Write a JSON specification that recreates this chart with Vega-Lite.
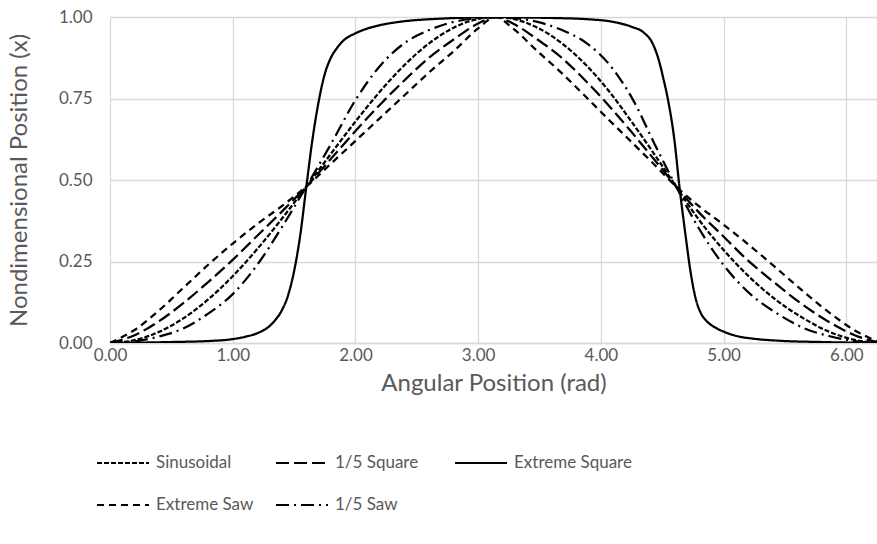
{
  "$schema": "https://vega.github.io/schema/vega-lite/v6.json",
  "width": 767,
  "height": 326,
  "autosize": "none",
  "padding": {"left": 110, "top": 17, "right": 0, "bottom": 201},
  "config": {"view": {"stroke": null}, "font": "Lato", "background": "white"},
  "data": {"values": [
    {"s":"Sinusoidal","t":0,"v":0},{"s":"Sinusoidal","t":0.2,"v":0.0086},{"s":"Sinusoidal","t":0.4,"v":0.0342},{"s":"Sinusoidal","t":0.6,"v":0.0762},{"s":"Sinusoidal","t":0.8,"v":0.1336},{"s":"Sinusoidal","t":1.0,"v":0.205},{"s":"Sinusoidal","t":1.2,"v":0.2884},{"s":"Sinusoidal","t":1.4,"v":0.381},{"s":"Sinusoidal","t":1.6,"v":0.4796},{"s":"Sinusoidal","t":1.8,"v":0.5804},{"s":"Sinusoidal","t":2.0,"v":0.6792},{"s":"Sinusoidal","t":2.2,"v":0.7714},{"s":"Sinusoidal","t":2.4,"v":0.8527},{"s":"Sinusoidal","t":2.6,"v":0.9191},{"s":"Sinusoidal","t":2.8,"v":0.9672},{"s":"Sinusoidal","t":3.0,"v":0.9943},{"s":"Sinusoidal","t":3.1416,"v":1},
    {"s":"Sinusoidal","t":3.2832,"v":0.9943},{"s":"Sinusoidal","t":3.4832,"v":0.9672},{"s":"Sinusoidal","t":3.6832,"v":0.9191},{"s":"Sinusoidal","t":3.8792,"v":0.8527},{"s":"Sinusoidal","t":4.0682,"v":0.7714},{"s":"Sinusoidal","t":4.2492,"v":0.6792},{"s":"Sinusoidal","t":4.4332,"v":0.5804},{"s":"Sinusoidal","t":4.6132,"v":0.4796},{"s":"Sinusoidal","t":4.7932,"v":0.381},{"s":"Sinusoidal","t":4.9932,"v":0.2884},{"s":"Sinusoidal","t":5.2032,"v":0.205},{"s":"Sinusoidal","t":5.4232,"v":0.1336},{"s":"Sinusoidal","t":5.6482,"v":0.0762},{"s":"Sinusoidal","t":5.8632,"v":0.0342},{"s":"Sinusoidal","t":6.0782,"v":0.0086},{"s":"Sinusoidal","t":6.2832,"v":0},

    {"s":"1/5 Square","t":0,"v":0},{"s":"1/5 Square","t":0.2,"v":0.024},{"s":"1/5 Square","t":0.4,"v":0.067},{"s":"1/5 Square","t":0.6,"v":0.123},{"s":"1/5 Square","t":0.8,"v":0.187},{"s":"1/5 Square","t":1.0,"v":0.255},{"s":"1/5 Square","t":1.2,"v":0.329},{"s":"1/5 Square","t":1.4,"v":0.403},{"s":"1/5 Square","t":1.6,"v":0.48},{"s":"1/5 Square","t":1.8,"v":0.565},{"s":"1/5 Square","t":2.0,"v":0.65},{"s":"1/5 Square","t":2.2,"v":0.731},{"s":"1/5 Square","t":2.4,"v":0.806},{"s":"1/5 Square","t":2.6,"v":0.875},{"s":"1/5 Square","t":2.8,"v":0.931},{"s":"1/5 Square","t":3.0,"v":0.98},{"s":"1/5 Square","t":3.1416,"v":1},
    {"s":"1/5 Square","t":3.2832,"v":0.98},{"s":"1/5 Square","t":3.4832,"v":0.931},{"s":"1/5 Square","t":3.6802,"v":0.875},{"s":"1/5 Square","t":3.8712,"v":0.806},{"s":"1/5 Square","t":4.0582,"v":0.731},{"s":"1/5 Square","t":4.2432,"v":0.65},{"s":"1/5 Square","t":4.4302,"v":0.565},{"s":"1/5 Square","t":4.6132,"v":0.48},{"s":"1/5 Square","t":4.7932,"v":0.403},{"s":"1/5 Square","t":4.9932,"v":0.329},{"s":"1/5 Square","t":5.1932,"v":0.255},{"s":"1/5 Square","t":5.4082,"v":0.187},{"s":"1/5 Square","t":5.6252,"v":0.123},{"s":"1/5 Square","t":5.8482,"v":0.067},{"s":"1/5 Square","t":6.0682,"v":0.024},{"s":"1/5 Square","t":6.2832,"v":0},

    {"s":"Extreme Square","t":0,"v":0},{"s":"Extreme Square","t":0.5,"v":0.003},{"s":"Extreme Square","t":0.8,"v":0.006},{"s":"Extreme Square","t":1.0,"v":0.012},{"s":"Extreme Square","t":1.1,"v":0.019},{"s":"Extreme Square","t":1.2,"v":0.03},{"s":"Extreme Square","t":1.3,"v":0.052},{"s":"Extreme Square","t":1.35,"v":0.072},{"s":"Extreme Square","t":1.4,"v":0.1},{"s":"Extreme Square","t":1.45,"v":0.145},{"s":"Extreme Square","t":1.5,"v":0.22},{"s":"Extreme Square","t":1.55,"v":0.33},{"s":"Extreme Square","t":1.6,"v":0.48},{"s":"Extreme Square","t":1.65,"v":0.625},{"s":"Extreme Square","t":1.7,"v":0.74},{"s":"Extreme Square","t":1.75,"v":0.825},{"s":"Extreme Square","t":1.8,"v":0.875},{"s":"Extreme Square","t":1.85,"v":0.905},{"s":"Extreme Square","t":1.9,"v":0.927},{"s":"Extreme Square","t":2.0,"v":0.95},{"s":"Extreme Square","t":2.1,"v":0.965},{"s":"Extreme Square","t":2.2,"v":0.975},{"s":"Extreme Square","t":2.4,"v":0.987},{"s":"Extreme Square","t":2.7,"v":0.995},{"s":"Extreme Square","t":3.0,"v":0.999},{"s":"Extreme Square","t":3.1416,"v":1},
    {"s":"Extreme Square","t":3.2832,"v":0.999},{"s":"Extreme Square","t":3.6,"v":0.997},{"s":"Extreme Square","t":3.9,"v":0.993},{"s":"Extreme Square","t":4.1,"v":0.985},{"s":"Extreme Square","t":4.25,"v":0.97},{"s":"Extreme Square","t":4.35,"v":0.952},{"s":"Extreme Square","t":4.42,"v":0.92},{"s":"Extreme Square","t":4.47,"v":0.87},{"s":"Extreme Square","t":4.51,"v":0.81},{"s":"Extreme Square","t":4.55,"v":0.74},{"s":"Extreme Square","t":4.6,"v":0.62},{"s":"Extreme Square","t":4.64,"v":0.48},{"s":"Extreme Square","t":4.69,"v":0.33},{"s":"Extreme Square","t":4.73,"v":0.22},{"s":"Extreme Square","t":4.77,"v":0.14},{"s":"Extreme Square","t":4.81,"v":0.095},{"s":"Extreme Square","t":4.86,"v":0.068},{"s":"Extreme Square","t":4.92,"v":0.05},{"s":"Extreme Square","t":5.0,"v":0.035},{"s":"Extreme Square","t":5.1,"v":0.022},{"s":"Extreme Square","t":5.25,"v":0.013},{"s":"Extreme Square","t":5.45,"v":0.007},{"s":"Extreme Square","t":5.8,"v":0.003},{"s":"Extreme Square","t":6.2832,"v":0},

    {"s":"Extreme Saw","t":0,"v":0},{"s":"Extreme Saw","t":0.2,"v":0.04},{"s":"Extreme Saw","t":0.4,"v":0.1},{"s":"Extreme Saw","t":0.6,"v":0.17},{"s":"Extreme Saw","t":0.8,"v":0.24},{"s":"Extreme Saw","t":1.0,"v":0.305},{"s":"Extreme Saw","t":1.2,"v":0.365},{"s":"Extreme Saw","t":1.4,"v":0.42},{"s":"Extreme Saw","t":1.6,"v":0.48},{"s":"Extreme Saw","t":1.8,"v":0.55},{"s":"Extreme Saw","t":2.0,"v":0.62},{"s":"Extreme Saw","t":2.2,"v":0.69},{"s":"Extreme Saw","t":2.4,"v":0.76},{"s":"Extreme Saw","t":2.6,"v":0.83},{"s":"Extreme Saw","t":2.8,"v":0.895},{"s":"Extreme Saw","t":3.0,"v":0.965},{"s":"Extreme Saw","t":3.1416,"v":1},
    {"s":"Extreme Saw","t":3.2832,"v":0.965},{"s":"Extreme Saw","t":3.4832,"v":0.895},{"s":"Extreme Saw","t":3.6752,"v":0.83},{"s":"Extreme Saw","t":3.8652,"v":0.76},{"s":"Extreme Saw","t":4.0502,"v":0.69},{"s":"Extreme Saw","t":4.2402,"v":0.62},{"s":"Extreme Saw","t":4.4282,"v":0.55},{"s":"Extreme Saw","t":4.6132,"v":0.48},{"s":"Extreme Saw","t":4.7982,"v":0.42},{"s":"Extreme Saw","t":4.9932,"v":0.365},{"s":"Extreme Saw","t":5.1932,"v":0.305},{"s":"Extreme Saw","t":5.3982,"v":0.24},{"s":"Extreme Saw","t":5.6132,"v":0.17},{"s":"Extreme Saw","t":5.8382,"v":0.1},{"s":"Extreme Saw","t":6.0632,"v":0.04},{"s":"Extreme Saw","t":6.2832,"v":0},

    {"s":"1/5 Saw","t":0,"v":0},{"s":"1/5 Saw","t":0.2,"v":0.005},{"s":"1/5 Saw","t":0.4,"v":0.02},{"s":"1/5 Saw","t":0.6,"v":0.045},{"s":"1/5 Saw","t":0.8,"v":0.09},{"s":"1/5 Saw","t":1.0,"v":0.15},{"s":"1/5 Saw","t":1.2,"v":0.24},{"s":"1/5 Saw","t":1.4,"v":0.355},{"s":"1/5 Saw","t":1.6,"v":0.48},{"s":"1/5 Saw","t":1.8,"v":0.61},{"s":"1/5 Saw","t":2.0,"v":0.745},{"s":"1/5 Saw","t":2.2,"v":0.85},{"s":"1/5 Saw","t":2.4,"v":0.92},{"s":"1/5 Saw","t":2.6,"v":0.96},{"s":"1/5 Saw","t":2.8,"v":0.985},{"s":"1/5 Saw","t":3.0,"v":0.997},{"s":"1/5 Saw","t":3.1416,"v":1},
    {"s":"1/5 Saw","t":3.2832,"v":0.997},{"s":"1/5 Saw","t":3.4832,"v":0.985},{"s":"1/5 Saw","t":3.6832,"v":0.96},{"s":"1/5 Saw","t":3.8832,"v":0.92},{"s":"1/5 Saw","t":4.0782,"v":0.85},{"s":"1/5 Saw","t":4.2632,"v":0.745},{"s":"1/5 Saw","t":4.4382,"v":0.61},{"s":"1/5 Saw","t":4.6132,"v":0.48},{"s":"1/5 Saw","t":4.7932,"v":0.355},{"s":"1/5 Saw","t":4.9982,"v":0.24},{"s":"1/5 Saw","t":5.2182,"v":0.15},{"s":"1/5 Saw","t":5.4382,"v":0.09},{"s":"1/5 Saw","t":5.6582,"v":0.045},{"s":"1/5 Saw","t":5.8732,"v":0.02},{"s":"1/5 Saw","t":6.0832,"v":0.005},{"s":"1/5 Saw","t":6.2832,"v":0}
  ]},
  "mark": {"type": "line", "color": "black", "strokeWidth": 2.25, "clip": true, "interpolate": "monotone"},
  "encoding": {
    "x": {"field": "t", "type": "quantitative",
      "scale": {"domain": [0, 6.25], "nice": false, "zero": false},
      "axis": {"values": [0, 1, 2, 3, 4, 5, 6], "format": ".2f", "title": "Angular Position (rad)", "labelFlush": false,
        "grid": true, "gridColor": "#d9d9d9", "gridWidth": 1.3, "domainColor": "#d9d9d9", "domainWidth": 1.3, "ticks": false,
        "labelFontSize": 17, "labelColor": "#595959", "labelPadding": 4,
        "titleFontSize": 24, "titleColor": "#595959", "titleFontWeight": "normal", "titlePadding": 8}},
    "y": {"field": "v", "type": "quantitative",
      "scale": {"domain": [0, 1], "nice": false},
      "axis": {"values": [0, 0.25, 0.5, 0.75, 1], "format": ".2f", "title": "Nondimensional Position (x)", "labelFlush": false,
        "grid": true, "gridColor": "#d9d9d9", "gridWidth": 1.3, "domain": false, "ticks": false,
        "labelFontSize": 17, "labelColor": "#595959", "labelPadding": 18,
        "titleFontSize": 24, "titleColor": "#595959", "titleFontWeight": "normal", "titlePadding": 27}},
    "strokeDash": {"field": "s", "type": "nominal",
      "scale": {"domain": ["Sinusoidal", "1/5 Square", "Extreme Square", "Extreme Saw", "1/5 Saw"],
        "range": [[5, 2], [13, 5], [1, 0], [7, 5], [13, 5, 2, 5]]},
      "legend": {"orient": "none", "legendX": -14, "legendY": 419, "direction": "horizontal", "columns": 3,
        "title": null, "symbolType": "stroke", "symbolSize": 2700, "symbolStrokeWidth": 2, "symbolStrokeColor": "black",
        "labelFontSize": 17, "labelColor": "#595959", "labelOffset": 6, "gridAlign": "all",
        "columnPadding": -2, "rowPadding": 7}}
  }
}
